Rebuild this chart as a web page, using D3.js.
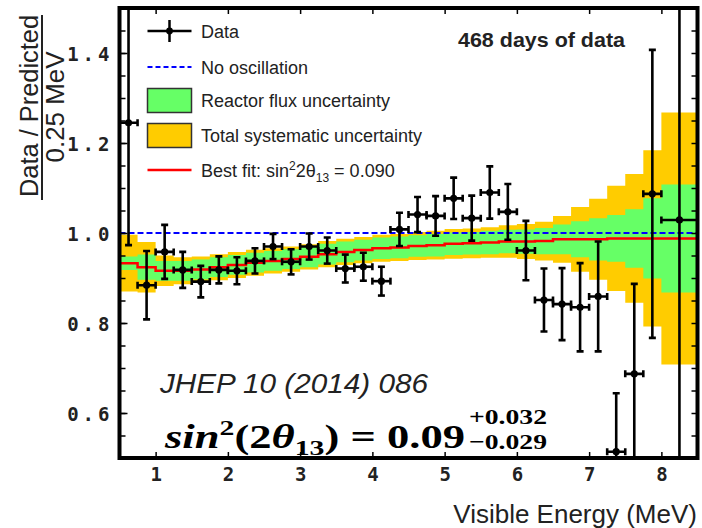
<!DOCTYPE html>
<html>
<head>
<meta charset="utf-8">
<script src="https://cdn.jsdelivr.net/npm/d3@7"></script>
<style>
  html, body { margin: 0; padding: 0; background: #fff; }
  svg { display: block; }
  text { font-family: "Liberation Sans", Arial, sans-serif; fill: #222; }
  text.math { font-family: "Liberation Serif", "Times New Roman", serif; font-weight: bold; fill: #000; }
</style>
</head>
<body>
<svg id="chart" width="702" height="528"></svg>
<script>
// Visible-energy bins (MeV): 0.25 MeV wide up to 8 MeV, one last bin 8.0-8.5
const binEdges = [0.5, 0.75, 1.0, 1.25, 1.5, 1.75, 2.0, 2.25, 2.5, 2.75, 3.0, 3.25, 3.5, 3.75,
  4.0, 4.25, 4.5, 4.75, 5.0, 5.25, 5.5, 5.75, 6.0, 6.25, 6.5, 6.75, 7.0, 7.25, 7.5, 7.75, 8.0, 8.5];

// Best-fit prediction (ratio to no-oscillation) per bin
const bestFit = [0.933, 0.924, 0.916, 0.916, 0.919, 0.924, 0.929, 0.934, 0.938, 0.942, 0.947,
  0.953, 0.958, 0.962, 0.966, 0.968, 0.971, 0.973, 0.976, 0.977, 0.979, 0.981, 0.981, 0.982,
  0.986, 0.986, 0.986, 0.988, 0.988, 0.988, 0.988];

// Half-widths of the uncertainty bands around the best fit
const reactorUnc = [0.015, 0.028, 0.022, 0.022, 0.022, 0.022, 0.022, 0.022, 0.022, 0.022, 0.023,
  0.023, 0.023, 0.023, 0.024, 0.024, 0.024, 0.025, 0.025, 0.025, 0.026, 0.026, 0.027, 0.029,
  0.033, 0.040, 0.047, 0.052, 0.065, 0.089, 0.120];
const totalUnc = [0.063, 0.056, 0.034, 0.030, 0.029, 0.029, 0.029, 0.029, 0.028, 0.028, 0.028,
  0.029, 0.029, 0.029, 0.030, 0.030, 0.031, 0.032, 0.033, 0.033, 0.034, 0.036, 0.039, 0.043,
  0.052, 0.072, 0.090, 0.117, 0.143, 0.196, 0.280];

// Measured data / predicted
const dataEnergy = [0.625, 0.875, 1.125, 1.375, 1.625, 1.875, 2.125, 2.375, 2.625, 2.875, 3.125,
  3.375, 3.625, 3.875, 4.125, 4.375, 4.625, 4.875, 5.125, 5.375, 5.625, 5.875, 6.125, 6.375,
  6.625, 6.875, 7.125, 7.375, 7.625, 7.875, 8.25];
const dataRatio = [1.245, 0.884, 0.958, 0.918, 0.892, 0.918, 0.916, 0.938, 0.970, 0.936, 0.970,
  0.961, 0.921, 0.925, 0.893, 1.008, 1.041, 1.038, 1.077, 1.033, 1.090, 1.047, 0.961, 0.851,
  0.842, 0.835, 0.859, 0.514, 0.687, 1.087, 1.029];
const dataErr = [0.272, 0.076, 0.060, 0.040, 0.035, 0.030, 0.030, 0.028, 0.028, 0.028, 0.029,
  0.029, 0.031, 0.031, 0.032, 0.037, 0.039, 0.044, 0.046, 0.050, 0.058, 0.062, 0.066, 0.070,
  0.080, 0.098, 0.122, 0.130, 0.200, 0.320, 0.600];
const dataHalfBin = [0.125, 0.125, 0.125, 0.125, 0.125, 0.125, 0.125, 0.125, 0.125, 0.125, 0.125,
  0.125, 0.125, 0.125, 0.125, 0.125, 0.125, 0.125, 0.125, 0.125, 0.125, 0.125, 0.125, 0.125,
  0.125, 0.125, 0.125, 0.125, 0.125, 0.125, 0.25];

const noOscillation = 1.0;
const xTicks = [1, 2, 3, 4, 5, 6, 7, 8];
const yTicks = [0.6, 0.8, 1.0, 1.2, 1.4];

const svg = d3.select("#chart");
const x = d3.scaleLinear().domain([0.5, 8.5]).range([119.5, 697.5]);
const y = d3.scaleLinear().domain([0.5, 1.5]).range([458, 8]);

svg.append("defs").append("clipPath").attr("id", "plot-clip")
  .append("rect")
  .attr("x", x(0.5)).attr("y", y(1.5))
  .attr("width", x(8.5) - x(0.5)).attr("height", y(0.5) - y(1.5));

const plot = svg.append("g").attr("clip-path", "url(#plot-clip)");

// step-shaped bin table: one point per edge, last bin value repeated at the end
const bins = binEdges.map((e, i) => {
  const k = Math.min(i, bestFit.length - 1);
  return { e, fit: bestFit[k], r: reactorUnc[k], t: totalUnc[k] };
});

const band = (w) => d3.area()
  .curve(d3.curveStepAfter)
  .x(d => x(d.e))
  .y0(d => y(d.fit - d[w]))
  .y1(d => y(d.fit + d[w]));

plot.append("path").datum(bins).attr("d", band("t")).attr("fill", "#ffcc00");
plot.append("path").datum(bins).attr("d", band("r")).attr("fill", "#66ff66");

// curves rise from zero at the analysis threshold
const stepLine = d3.line().curve(d3.curveStepAfter).x(d => x(d[0])).y(d => y(d[1]));

const noOscPts = [[0.5, 0]].concat(binEdges.map(e => [e, noOscillation]));
plot.append("path").datum(noOscPts).attr("d", stepLine)
  .attr("fill", "none").attr("stroke", "#0000ff").attr("stroke-width", 2.2)
  .attr("stroke-dasharray", "6,3");

const fitPts = [[0.5, 0]].concat(bins.map(d => [d.e, d.fit]));
plot.append("path").datum(fitPts).attr("d", stepLine)
  .attr("fill", "none").attr("stroke", "#ff0000").attr("stroke-width", 2.5);

// data with error bars
const pts = dataEnergy.map((e, i) => ({ e, v: dataRatio[i], err: dataErr[i], hw: dataHalfBin[i] }));
const cap = 3.5;
const g = plot.append("g").selectAll("g").data(pts).join("g")
  .attr("stroke", "#000").attr("stroke-width", 2.6).attr("fill", "none");
g.append("line")
  .attr("x1", d => x(d.e)).attr("x2", d => x(d.e))
  .attr("y1", d => y(d.v + d.err)).attr("y2", d => y(d.v - d.err));
g.append("line")
  .attr("x1", d => x(d.e - d.hw)).attr("x2", d => x(d.e + d.hw))
  .attr("y1", d => y(d.v)).attr("y2", d => y(d.v));
g.append("line")
  .attr("x1", d => x(d.e) - cap).attr("x2", d => x(d.e) + cap)
  .attr("y1", d => y(d.v + d.err)).attr("y2", d => y(d.v + d.err));
g.append("line")
  .attr("x1", d => x(d.e) - cap).attr("x2", d => x(d.e) + cap)
  .attr("y1", d => y(d.v - d.err)).attr("y2", d => y(d.v - d.err));
g.append("line")
  .attr("x1", d => x(d.e - d.hw)).attr("x2", d => x(d.e - d.hw))
  .attr("y1", d => y(d.v) - cap).attr("y2", d => y(d.v) + cap);
g.append("line")
  .attr("x1", d => x(d.e + d.hw)).attr("x2", d => x(d.e + d.hw))
  .attr("y1", d => y(d.v) - cap).attr("y2", d => y(d.v) + cap);
g.append("circle")
  .attr("cx", d => x(d.e)).attr("cy", d => y(d.v)).attr("r", 3.6)
  .attr("fill", "#000").attr("stroke", "none");

// axes: ticks drawn inward
const minorY = d3.range(0.5, 1.5001, 0.05);
const styleAxis = sel => { sel.select(".domain").remove(); sel.selectAll("line").attr("stroke", "#000").attr("stroke-width", 1.5); };

svg.append("g").attr("transform", `translate(${x(0.5)},0)`)
  .call(d3.axisLeft(y).tickValues(minorY).tickSize(-6).tickFormat(""))
  .call(styleAxis);
svg.append("g").attr("transform", `translate(${x(8.5)},0)`)
  .call(d3.axisRight(y).tickValues(minorY).tickSize(-6).tickFormat(""))
  .call(styleAxis);
const yAx = svg.append("g").attr("transform", `translate(${x(0.5)},0)`)
  .call(d3.axisLeft(y).tickValues(yTicks).tickSize(-8).tickPadding(6).tickFormat(d3.format(".1f")))
  .call(styleAxis);
yAx.selectAll("text")
  .attr("dy", "0.42em")
  .style("font-family", "'DejaVu Sans Mono', monospace")
  .style("font-size", "19px").style("font-weight", "bold")
  .style("letter-spacing", "4px").attr("fill", "#222");

svg.append("g").attr("transform", `translate(0,${y(1.5)})`)
  .call(d3.axisTop(x).tickValues(xTicks).tickSize(-6).tickFormat(""))
  .call(styleAxis);
const xAx = svg.append("g").attr("transform", `translate(0,${y(0.5)})`)
  .call(d3.axisBottom(x).tickValues(xTicks).tickSize(-6).tickPadding(10).tickFormat(d3.format("d")))
  .call(styleAxis);
xAx.selectAll("text")
  .attr("dy", "0.71em")
  .style("font-family", "'DejaVu Sans Mono', monospace")
  .style("font-size", "19px").style("font-weight", "bold").attr("fill", "#222");

// frame
svg.append("rect")
  .attr("x", x(0.5)).attr("y", y(1.5))
  .attr("width", x(8.5) - x(0.5)).attr("height", y(0.5) - y(1.5))
  .attr("fill", "none").attr("stroke", "#000").attr("stroke-width", 4);

// axis titles
svg.append("text").attr("transform", "translate(38,106) rotate(-90)")
  .attr("text-anchor", "middle").style("font-size", "25px")
  .attr("textLength", 182).attr("lengthAdjust", "spacingAndGlyphs")
  .text("Data / Predicted");
svg.append("line").attr("x1", 42).attr("x2", 42).attr("y1", 15).attr("y2", 200)
  .attr("stroke", "#222").attr("stroke-width", 2);
svg.append("text").attr("transform", "translate(64,107) rotate(-90)")
  .attr("text-anchor", "middle").style("font-size", "25px")
  .attr("textLength", 111).attr("lengthAdjust", "spacingAndGlyphs")
  .text("0.25 MeV");

svg.append("text").attr("x", 697).attr("y", 523).attr("text-anchor", "end")
  .style("font-size", "26px").attr("fill", "#333")
  .text("Visible Energy (MeV)");

// legend
const lg = svg.append("g").style("font-size", "18px");
const lx0 = 147.5, lx1 = 191.5, tx = 201;
lg.append("line").attr("x1", lx0).attr("x2", lx1).attr("y1", 31).attr("y2", 31)
  .attr("stroke", "#000").attr("stroke-width", 2.5);
lg.append("line").attr("x1", 169.5).attr("x2", 169.5).attr("y1", 20).attr("y2", 42)
  .attr("stroke", "#000").attr("stroke-width", 2.5);
lg.append("circle").attr("cx", 169.5).attr("cy", 31).attr("r", 3.4).attr("fill", "#000");
lg.append("text").attr("x", tx).attr("y", 37.5).text("Data");

lg.append("line").attr("x1", lx0).attr("x2", lx1).attr("y1", 67).attr("y2", 67)
  .attr("stroke", "#0000ff").attr("stroke-width", 2).attr("stroke-dasharray", "5,3");
lg.append("text").attr("x", tx).attr("y", 73.5).text("No oscillation");

lg.append("rect").attr("x", lx0).attr("y", 88.5).attr("width", lx1 - lx0).attr("height", 24)
  .attr("fill", "#66ff66").attr("stroke", "#333").attr("stroke-width", 1.5);
lg.append("text").attr("x", tx).attr("y", 107).text("Reactor flux uncertainty");

lg.append("rect").attr("x", lx0).attr("y", 123.5).attr("width", lx1 - lx0).attr("height", 24)
  .attr("fill", "#ffcc00").attr("stroke", "#333").attr("stroke-width", 1.5);
lg.append("text").attr("x", tx).attr("y", 141.5).text("Total systematic uncertainty");

lg.append("line").attr("x1", lx0).attr("x2", lx1).attr("y1", 170).attr("y2", 170)
  .attr("stroke", "#ff0000").attr("stroke-width", 2.5);
const bf = lg.append("text").attr("x", tx).attr("y", 176.5);
bf.append("tspan").text("Best fit: sin");
bf.append("tspan").attr("dy", -7).style("font-size", "12px").text("2");
bf.append("tspan").attr("dy", 7).text("2θ");
bf.append("tspan").attr("dy", 5).style("font-size", "12px").text("13");
bf.append("tspan").attr("dy", -5).text(" = 0.090");

svg.append("text").attr("x", 458).attr("y", 47)
  .style("font-size", "21px").style("font-weight", "bold").attr("fill", "#000")
  .attr("textLength", 167).attr("lengthAdjust", "spacingAndGlyphs")
  .text("468 days of data");

// publication reference and fitted value
svg.append("text").attr("x", 160).attr("y", 393)
  .style("font-size", "28px").style("font-style", "italic").attr("fill", "#111")
  .attr("textLength", 268).attr("lengthAdjust", "spacingAndGlyphs")
  .text("JHEP 10 (2014) 086");

const f = svg.append("text").attr("class", "math").attr("x", 165).attr("y", 448)
  .style("font-size", "33px")
  .attr("textLength", 300).attr("lengthAdjust", "spacingAndGlyphs");
f.append("tspan").style("font-style", "italic").text("sin");
f.append("tspan").attr("dy", -13).style("font-size", "22px").text("2");
f.append("tspan").attr("dy", 13).text("(2");
f.append("tspan").style("font-style", "italic").text("θ");
f.append("tspan").attr("dy", 7).style("font-size", "22px").text("13");
f.append("tspan").attr("dy", -7).text(") = 0.09");

svg.append("text").attr("class", "math").attr("x", 469).attr("y", 424)
  .style("font-size", "22px")
  .attr("textLength", 78).attr("lengthAdjust", "spacingAndGlyphs").text("+0.032");
svg.append("text").attr("class", "math").attr("x", 469).attr("y", 449)
  .style("font-size", "22px")
  .attr("textLength", 78).attr("lengthAdjust", "spacingAndGlyphs").text("−0.029");
</script>
</body>
</html>
